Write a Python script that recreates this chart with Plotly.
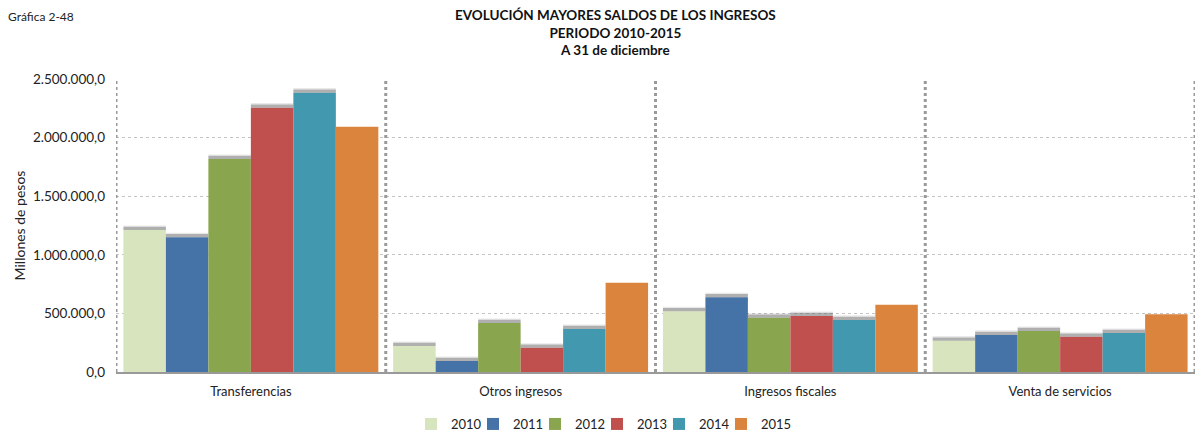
import plotly.graph_objects as go

categories = ["Transferencias", "Otros ingresos", "Ingresos fiscales", "Venta de servicios"]
years = ["2010", "2011", "2012", "2013", "2014", "2015"]

v2010 = [1211000, 222000, 518000, 267000]
v2011 = [1149000, 94000, 637000, 316000]
v2012 = [1817000, 418000, 463000, 350000]
v2013 = [2255000, 207000, 478000, 301000]
v2014 = [2383000, 367000, 444000, 333000]
v2015 = [2093000, 762000, 574000, 492000]
series = [v2010, v2011, v2012, v2013, v2014, v2015]

colors = ["#D7E4BD", "#4572A7", "#89A54E", "#C0504D", "#4198AF", "#DB843D"]

tick_vals = [0, 500000, 1000000, 1500000, 2000000, 2500000]
tick_text = ["0,0", "500.000,0", "1.000.000,0", "1.500.000,0", "2.000.000,0", "2.500.000,0"]

FONT = "Lato"
W, H = 1201, 434
ML, MR, MT, MB = 116, 6, 79, 62
PW = W - ML - MR
PH = H - MT - MB
shadow_h = 28000  # thickness of the soft shadow above each bar top
LEG_X0, LEG_STEP = 411, 62  # legend entries laid out one per legend box


def px_x(p):
    return (p - ML) / PW


fig = go.Figure()
legend_cfg = {}
for i, (yr, vals, col) in enumerate(zip(years, series, colors)):
    lg = "legend" if i == 0 else f"legend{i + 1}"
    fig.add_trace(go.Bar(
        x=categories, y=vals, name=yr, marker=dict(color=col, line=dict(width=0)),
        offsetgroup=yr, hoverinfo="y+name", legend=lg,
    ))
    legend_cfg[lg] = dict(
        orientation="h", x=px_x(LEG_X0 + LEG_STEP * i), xanchor="left",
        y=-52 / PH, yanchor="middle", font=dict(size=13, family=FONT),
        itemwidth=30, bgcolor="rgba(0,0,0,0)",
    )
    if yr != "2015":
        fig.add_trace(go.Bar(
            x=categories, y=[shadow_h] * len(vals), base=vals, showlegend=False,
            marker=dict(color="rgba(110,110,110,0.55)", line=dict(width=0)),
            offsetgroup=yr, hoverinfo="skip",
        ))
        fig.add_trace(go.Bar(
            x=categories, y=[shadow_h * 0.4] * len(vals),
            base=[v + shadow_h for v in vals], showlegend=False,
            marker=dict(color="rgba(110,110,110,0.15)", line=dict(width=0)),
            offsetgroup=yr, hoverinfo="skip",
        ))

# dotted separators between categories
shapes = []
for xpos in [-0.5, 0.5, 1.5, 2.5, 3.5]:
    shapes.append(dict(type="line", xref="x", yref="paper", x0=xpos, x1=xpos, y0=0, y1=1,
                       line=dict(color="#9a9a9a", width=3, dash="dot"), layer="above"))

fig.update_layout(
    width=W, height=H,
    margin=dict(l=ML, r=MR, t=MT, b=MB, autoexpand=False),
    paper_bgcolor="white", plot_bgcolor="white",
    barmode="group", bargap=0.055, bargroupgap=0,
    font=dict(family=FONT, size=13, color="#222"),
    shapes=shapes,
    showlegend=True,
    annotations=[
        dict(text="<b>EVOLUCIÓN MAYORES SALDOS DE LOS INGRESOS</b><br><b>PERIODO 2010-2015</b><br><b>A 31 de diciembre</b>",
             xref="paper", yref="paper", x=px_x(615), y=1.0, yshift=74,
             xanchor="center", yanchor="top", showarrow=False, align="center",
             font=dict(size=13.5, family=FONT, color="#111")),
        dict(text="Gráfica 2-48", xref="paper", yref="paper", x=0, xshift=-110, y=1, yshift=72,
             xanchor="left", yanchor="top", showarrow=False, font=dict(size=12, family=FONT)),
    ],
    xaxis=dict(range=[-0.5, 3.5], showline=True, linecolor="#999", linewidth=2,
               ticks="", showgrid=False, tickfont=dict(size=13), ticklabelstandoff=6),
    yaxis=dict(range=[0, 2500000], tickvals=tick_vals, ticktext=tick_text,
               showgrid=True, gridcolor="#c4c4c4", griddash="dot", gridwidth=1,
               zeroline=False, ticks="", tickfont=dict(size=13.5), ticklabelstandoff=10,
               title=dict(text="Millones de pesos", font=dict(size=14), standoff=4)),
    **legend_cfg,
)

fig.write_html("out.html")
